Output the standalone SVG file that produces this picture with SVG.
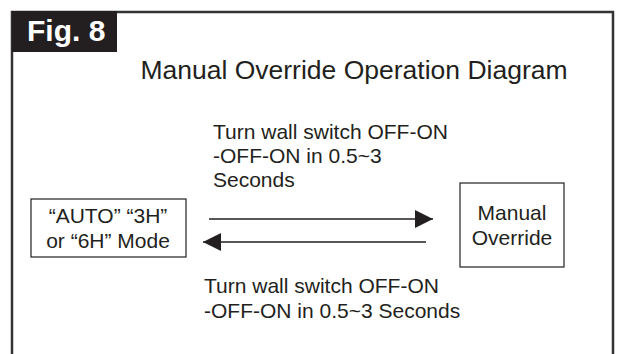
<svg xmlns="http://www.w3.org/2000/svg" width="619" height="354" viewBox="0 0 619 354">
<style>
text{font-family:"Liberation Sans",Arial,sans-serif;fill:#231f20}
.lbl{font-size:21px}
.box{fill:#fff;stroke:#231f20;stroke-width:1.2}
.conn{stroke:#231f20;stroke-width:1.5;fill:none}
</style>
<defs>
<marker id="ah" viewBox="0 0 18 18" refX="18" refY="9" markerWidth="18" markerHeight="18" markerUnits="userSpaceOnUse" orient="auto">
<path d="M0,0 L18,9 L0,18 Z" fill="#231f20"/>
</marker>
</defs>
<rect x="0" y="0" width="619" height="354" fill="#fff"/>
<path d="M12,354 V12 H613 V354" fill="none" stroke="#333" stroke-width="2.5"/>
<g id="figlabel">
<rect x="12" y="11" width="105" height="41" fill="#231f20"/>
<text x="27" y="41" style="font-size:30px;font-weight:bold;fill:#fff">Fig. 8</text>
</g>
<text x="354" y="79" text-anchor="middle" style="font-size:26.5px">Manual Override Operation Diagram</text>
<g id="node-auto">
<rect class="box" x="31" y="199" width="155" height="58"/>
<text class="lbl" x="108" y="223" text-anchor="middle">“AUTO” “3H”</text>
<text class="lbl" x="108" y="248" text-anchor="middle">or “6H” Mode</text>
</g>
<g id="node-manual">
<rect class="box" x="460" y="183" width="104" height="84"/>
<text class="lbl" x="512" y="220" text-anchor="middle">Manual</text>
<text class="lbl" x="512" y="245" text-anchor="middle">Override</text>
</g>
<g id="connectors">
<line class="conn" x1="209" y1="219" x2="433" y2="219" marker-end="url(#ah)"/>
<line class="conn" x1="426" y1="242" x2="203" y2="242" marker-end="url(#ah)"/>
</g>
<g id="labels">
<text class="lbl" x="213" y="139">Turn wall switch OFF-ON</text>
<text class="lbl" x="213" y="163">-OFF-ON in 0.5~3</text>
<text class="lbl" x="213" y="187">Seconds</text>
<text class="lbl" x="204" y="293">Turn wall switch OFF-ON</text>
<text class="lbl" x="204" y="318">-OFF-ON in 0.5~3 Seconds</text>
</g>
</svg>
